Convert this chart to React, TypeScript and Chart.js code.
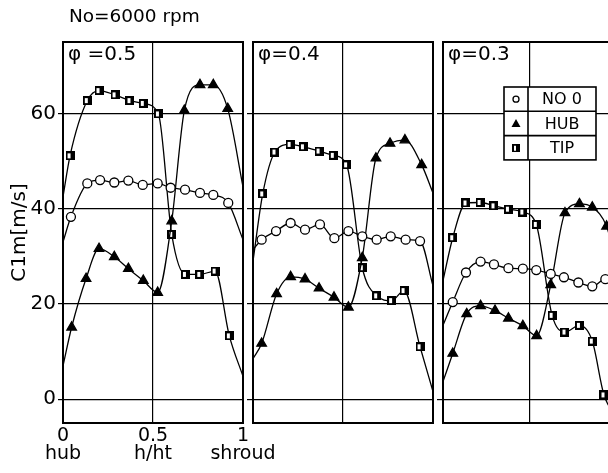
import React, { useEffect, useRef } from "react";
import { Chart, registerables } from "chart.js";
Chart.register(...registerables);

const FONT = "'DejaVu Sans', 'Liberation Sans', sans-serif";

const titleText = " No=6000 rpm";
const yTitle = "C1m[m/s]";
const seriesNames = ["NO 0", "HUB", "TIP"];
const panelLabels = ["φ =0.5", "φ=0.4", "φ=0.3"];
const xTicks = [0, 0.5, 1];
const xTickLabels = [["0", "hub"], ["0.5", "h/ht"], ["1", "shroud"]];
const yTicks = [0, 20, 40, 60];
const yMin = -5;
const yMax = 75;

// [h/ht, C1m]; first and last pairs are the faired curve ends at hub / shroud
const no0Phi05 = [[0, 33], [0.044, 38.3], [0.135, 45.3], [0.206, 46], [0.285, 45.5], [0.363, 45.9], [0.443, 45], [0.526, 45.3], [0.598, 44.4], [0.678, 44], [0.761, 43.3], [0.835, 42.9], [0.918, 41.2], [1, 33.5]];
const hubPhi05 = [[0, 7], [0.048, 15.1], [0.128, 25.3], [0.2, 31.6], [0.285, 29.9], [0.363, 27.4], [0.446, 24.9], [0.526, 22.4], [0.604, 37.4], [0.674, 60.6], [0.761, 66], [0.835, 66], [0.915, 61], [1, 44.6]];
const tipPhi05 = [[0, 42.5], [0.039, 51.1], [0.135, 62.7], [0.2, 64.8], [0.289, 63.9], [0.372, 62.7], [0.446, 62.1], [0.53, 59.9], [0.604, 34.6], [0.68, 26.2], [0.76, 26.2], [0.845, 26.9], [0.924, 13.3], [1, 4.8]];

const no0Phi04 = [[0, 31.4], [0.048, 33.5], [0.128, 35.3], [0.209, 37], [0.289, 35.6], [0.372, 36.7], [0.452, 33.8], [0.53, 35.3], [0.607, 34.2], [0.687, 33.5], [0.765, 34.2], [0.848, 33.5], [0.928, 33.2], [1, 23.8]];
const hubPhi04 = [[0, 8.5], [0.048, 11.7], [0.131, 22.1], [0.209, 25.7], [0.289, 25.2], [0.367, 23.3], [0.45, 21.4], [0.53, 19.3], [0.607, 29.7], [0.683, 50.6], [0.761, 53.7], [0.844, 54.4], [0.937, 49.2], [1, 43.3]];
const tipPhi04 = [[0, 29], [0.054, 43.1], [0.122, 51.9], [0.206, 53.5], [0.28, 53], [0.367, 52.1], [0.446, 51.2], [0.52, 49.2], [0.607, 27.6], [0.687, 21.7], [0.77, 20.7], [0.839, 22.8], [0.928, 11], [1, 1.6]];

const no0Phi03 = [[0, 15.5], [0.056, 20.4], [0.132, 26.6], [0.216, 28.9], [0.293, 28.3], [0.376, 27.5], [0.459, 27.4], [0.536, 27.1], [0.619, 26.3], [0.695, 25.6], [0.778, 24.5], [0.858, 23.7], [0.933, 25.2], [1, 22]];
const hubPhi03 = [[0, 3.7], [0.056, 9.6], [0.136, 17.9], [0.216, 19.6], [0.299, 18.6], [0.376, 17], [0.459, 15.4], [0.538, 13.3], [0.619, 24], [0.701, 39.1], [0.784, 41], [0.858, 40.3], [0.94, 36.3], [1, 28]];
const tipPhi03 = [[0, 24.9], [0.056, 33.9], [0.132, 41.2], [0.213, 41.3], [0.293, 40.6], [0.376, 39.9], [0.459, 39.3], [0.536, 36.7], [0.627, 17.6], [0.701, 14.1], [0.784, 15.5], [0.858, 12.2], [0.925, 0.9], [1, -4]];

const panelSeries = [
  [no0Phi05, hubPhi05, tipPhi05],
  [no0Phi04, hubPhi04, tipPhi04],
  [no0Phi03, hubPhi03, tipPhi03],
];

// canvas placement for each panel
const panelBoxes = [
  { left: 0, width: 300, padLeft: 0, padRight: 57 },
  { left: 245, width: 195, padLeft: 2, padRight: 7 },
  { left: 435, width: 190, padLeft: 2, padRight: 8 },
];
const H = 473;

function makeTipMarker(size: number, stripe: boolean) {
  const c = document.createElement("canvas");
  c.width = size;
  c.height = size;
  const g = c.getContext("2d")!;
  g.fillStyle = "#000";
  g.fillRect(0, 0, size, size);
  if (stripe) {
    g.fillStyle = "#fff";
    g.fillRect(Math.round(size * 0.2), Math.round(size * 0.2), Math.max(1, Math.round(size * 0.28)), Math.round(size * 0.6));
  }
  return c;
}

const panelDecor = {
  id: "panelDecor",
  afterDraw(chart: any, _args: any, opts: any) {
    const { ctx, chartArea: ca } = chart;
    ctx.save();
    ctx.strokeStyle = "#000";
    ctx.lineWidth = 2;
    ctx.strokeRect(ca.left, ca.top, ca.right - ca.left, ca.bottom - ca.top);
    ctx.fillStyle = "#000";
    ctx.font = `20px ${FONT}`;
    ctx.textBaseline = "middle";
    ctx.textAlign = "left";
    ctx.fillText(opts.label, ca.left + 5, ca.top + 13);
    ctx.restore();
  },
};

const tableLegend = {
  id: "tableLegend",
  afterDraw(chart: any, _args: any, opts: any) {
    if (!opts || !opts.show) return;
    const { ctx, chartArea: ca } = chart;
    const x0 = ca.left + 61;
    const y0 = ca.top + 45;
    const w = 92;
    const col = 24;
    const rowH = 24.3;
    const ds = chart.data.datasets;
    ctx.save();
    ctx.fillStyle = "#fff";
    ctx.fillRect(x0, y0, w, rowH * ds.length);
    ctx.strokeStyle = "#000";
    ctx.lineWidth = 1.6;
    ctx.strokeRect(x0, y0, w, rowH * ds.length);
    ctx.beginPath();
    ctx.moveTo(x0 + col, y0);
    ctx.lineTo(x0 + col, y0 + rowH * ds.length);
    for (let i = 1; i < ds.length; i++) {
      ctx.moveTo(x0, y0 + rowH * i);
      ctx.lineTo(x0 + w, y0 + rowH * i);
    }
    ctx.stroke();
    ds.forEach((d: any, i: number) => {
      const cy = y0 + rowH * i + rowH / 2;
      const cx = x0 + col / 2;
      ctx.lineWidth = 1.3;
      if (d.legendStyle === "circle") {
        ctx.beginPath();
        ctx.arc(cx, cy, 3, 0, Math.PI * 2);
        ctx.fillStyle = "#fff";
        ctx.fill();
        ctx.stroke();
      } else if (d.legendStyle === "triangle") {
        ctx.beginPath();
        ctx.moveTo(cx, cy - 4.5);
        ctx.lineTo(cx + 4.5, cy + 3.5);
        ctx.lineTo(cx - 4.5, cy + 3.5);
        ctx.closePath();
        ctx.fillStyle = "#000";
        ctx.fill();
      } else {
        const img = opts.tipIcon;
        ctx.drawImage(img, cx - img.width / 2, cy - img.height / 2);
      }
      ctx.fillStyle = "#000";
      ctx.font = `16px ${FONT}`;
      ctx.textAlign = "center";
      ctx.textBaseline = "middle";
      ctx.fillText(d.label, x0 + col + (w - col) / 2, cy + 1);
    });
    ctx.restore();
  },
};

function buildConfig(p: number, tipMarker: HTMLCanvasElement, tipIcon: HTMLCanvasElement): any {
  const box = panelBoxes[p];
  const first = p === 0;
  const styles = [
    { pointStyle: "circle", radius: 4.5, bg: "#fff", legendStyle: "circle" },
    { pointStyle: "triangle", radius: 5.5, bg: "#000", legendStyle: "triangle" },
    { pointStyle: tipMarker, radius: 5, bg: "#000", legendStyle: "tip" },
  ];
  const datasets = panelSeries[p].map((arr, i) => {
    const n = arr.length;
    const st = styles[i];
    return {
      label: seriesNames[i],
      legendStyle: st.legendStyle,
      data: arr.map(([x, y]) => ({ x, y })),
      borderColor: "#000",
      borderWidth: 1.3,
      backgroundColor: st.bg,
      pointStyle: st.pointStyle,
      pointRadius: (ctx: any) => (ctx.dataIndex === 0 || ctx.dataIndex === n - 1 ? 0 : st.radius),
      pointBorderColor: "#000",
      pointBackgroundColor: st.bg,
      pointBorderWidth: 1.3,
      cubicInterpolationMode: "monotone",
      fill: false,
    };
  });
  return {
    type: "line",
    data: { datasets },
    plugins: [panelDecor, tableLegend],
    options: {
      responsive: false,
      animation: false,
      devicePixelRatio: 1,
      events: [],
      layout: {
        padding: { left: box.padLeft, right: box.padRight, top: first ? 0 : 42, bottom: 0 },
      },
      plugins: {
        legend: { display: false },
        tooltip: { enabled: false },
        title: {
          display: first,
          text: titleText,
          align: "start",
          fullSize: false,
          color: "#000",
          font: { family: FONT, size: 18.5, weight: "normal" },
          padding: { top: 6, bottom: 13.8 },
        },
        panelDecor: { label: panelLabels[p] },
        tableLegend: { show: p === 2, tipIcon },
      },
      scales: {
        x: {
          type: "linear",
          min: 0,
          max: 1,
          afterBuildTicks: (s: any) => {
            s.ticks = xTicks.map((v) => ({ value: v }));
          },
          afterFit: (s: any) => {
            s.height = H - 423;
          },
          border: { display: false },
          grid: { color: "#000", lineWidth: 1.2, drawTicks: false },
          ticks: {
            display: first,
            color: "#000",
            padding: 5,
            maxRotation: 0,
            autoSkip: false,
            font: { family: FONT, size: 19, lineHeight: 0.9 },
            callback: (v: any) => {
              const i = xTicks.indexOf(Number(v));
              return i >= 0 ? xTickLabels[i] : "";
            },
          },
        },
        y: {
          type: "linear",
          min: yMin,
          max: yMax,
          afterBuildTicks: (s: any) => {
            s.ticks = yTicks.map((v) => ({ value: v }));
          },
          afterFit: (s: any) => {
            s.width = first ? 63 : 6;
          },
          border: { display: false },
          grid: { color: "#000", lineWidth: 1.2, drawTicks: true, tickLength: first ? 5 : 6 },
          ticks: {
            display: first,
            color: "#000",
            padding: 2,
            font: { family: FONT, size: 20 },
          },
          title: {
            display: first,
            text: yTitle,
            color: "#000",
            font: { family: FONT, size: 20 },
            padding: { top: 8, bottom: 0 },
          },
        },
      },
    },
  };
}

export default function App() {
  const r0 = useRef<HTMLCanvasElement>(null);
  const r1 = useRef<HTMLCanvasElement>(null);
  const r2 = useRef<HTMLCanvasElement>(null);
  const refs = [r0, r1, r2];

  useEffect(() => {
    const tipMarker = makeTipMarker(9, true);
    const tipIcon = makeTipMarker(8, true);
    const charts = refs.map((r, p) => new Chart(r.current!, buildConfig(p, tipMarker, tipIcon)));
    return () => charts.forEach((c) => c.destroy());
  }, []);

  return (
    <div
      style={{
        position: "fixed",
        left: 0,
        top: 0,
        width: 608,
        height: H,
        overflow: "hidden",
        background: "#fff",
      }}
    >
      {panelBoxes.map((b, i) => (
        <canvas
          key={i}
          ref={refs[i]}
          width={b.width}
          height={H}
          style={{ position: "absolute", left: b.left, top: 0, width: b.width, height: H }}
        />
      ))}
    </div>
  );
}
